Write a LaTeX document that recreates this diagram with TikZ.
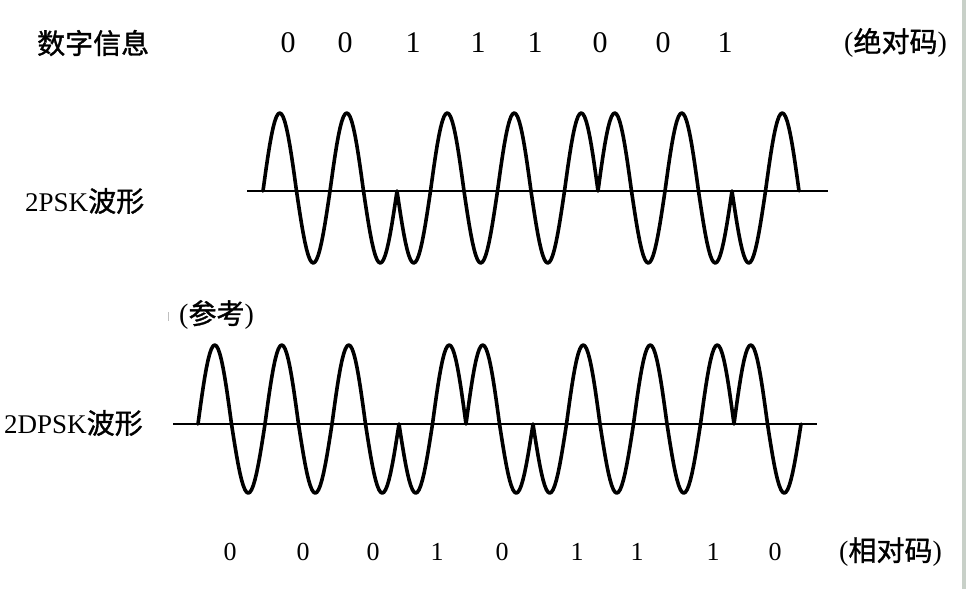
\documentclass[tikz,border=0pt]{standalone}
\usepackage{fontspec}
\setmainfont{Liberation Serif}
\newfontfamily\cjk[FakeBold=1.2]{Noto Sans CJK SC}
\begin{document}
\begin{tikzpicture}[x=1pt,y=-1pt,
  lbl/.style={inner sep=0pt, font=\fontsize{27}{30}\selectfont},
  zh/.style={inner sep=0pt, font=\fontsize{28}{30}\selectfont},
  topbit/.style={inner sep=0pt, font=\fontsize{30}{32}\selectfont},
  botbit/.style={inner sep=0pt, font=\fontsize{26}{28}\selectfont},
  axisline/.style={line width=1.8pt},
  wave/.style={line width=3.6pt, line join=round, line cap=round}]
\useasboundingbox (0,0) rectangle (966,589);
\fill[fill={rgb,255:red,200;green,208;blue,200}] (962,0) rectangle (966,589);

% labels
\node[zh, anchor=west] (info) at (37,43) {\cjk 数字信息};
\node[zh, anchor=west] (abs) at (844,43) {(\cjk 绝对码\rmfamily)};
\node[lbl, anchor=west] (psk) at (25,201) {2PSK\cjk\fontsize{28}{30}\selectfont 波形};
\node[zh, anchor=west] (ref) at (179,315) {(\cjk 参考\rmfamily)};
\node[lbl, anchor=west] (dpsk) at (4,423) {2DPSK\cjk\fontsize{28}{30}\selectfont 波形};
\node[zh, anchor=west] (rel) at (839,552) {(\cjk 相对码\rmfamily)};
\draw[gray!50, line width=0.8pt] (168,312) -- (168,321);

% top digits
\foreach \d/\x [count=\k] in {0/288,0/345,1/413,1/478,1/535,0/600,0/663,1/725}
  \node[topbit] (a\k) at (\x,43) {\d};
% bottom digits
\foreach \d/\x [count=\k] in {0/230,0/303,0/373,1/437,0/502,1/577,1/637,1/713,0/775}
  \node[botbit] (r\k) at (\x,552) {\d};

% axes
\coordinate (ta1) at (247,191);
\coordinate (ta2) at (828,191);
\coordinate (ba1) at (173,424);
\coordinate (ba2) at (817,424);
\draw[axisline] (ta1) -- (ta2);
\draw[axisline] (ba1) -- (ba2);

% 2PSK wave
\coordinate (tw0) at (263,191);
\draw[wave] (tw0) \foreach \b [count=\i from 0, evaluate=\b as \s using 1-2*\b] in {0,0,1,1,1,0,0,1} {
  -- plot[domain=0:1, samples=41, variable=\t] ({263+67*(\i+\t)}, {191-\s*sin(360*\t)*((\s*sin(360*\t)>0) ? 78 : 72)}) };

% 2DPSK wave
\coordinate (bw0) at (198,424);
\draw[wave] (bw0) \foreach \b [count=\i from 0, evaluate=\b as \s using 1-2*\b] in {0,0,0,1,0,1,1,1,0} {
  -- plot[domain=0:1, samples=41, variable=\t] ({198+67*(\i+\t)}, {424-\s*sin(360*\t)*((\s*sin(360*\t)>0) ? 79 : 69)}) };
\end{tikzpicture}
\end{document}
